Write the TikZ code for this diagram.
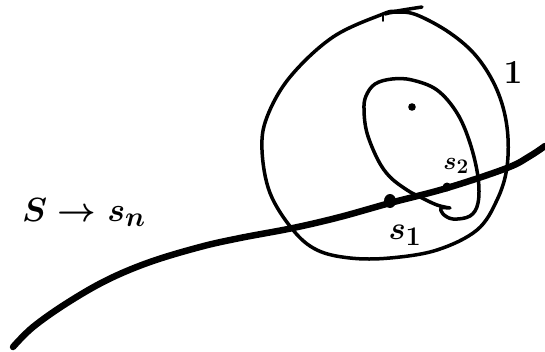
\documentclass[tikz,border=0pt]{standalone}
\usepackage{graphicx}
\begin{document}
\begin{tikzpicture}[x=1pt,y=-1pt,
  pen/.style={line width=3.5pt,line cap=round,line join=round},
  thick pen/.style={line width=6.5pt,line cap=round,line join=round},
  lbl/.style={inner sep=0pt,font=\Huge\boldmath\bfseries}]
\useasboundingbox (0,0) rectangle (545,351);
% outer closed region
\draw[pen] plot[smooth,tension=0.6] coordinates {
 (422,7) (397,11) (383,14) (333,37) (290,77) (267,117) (262,150) (270,193)
 (293,230) (317,250) (350,258) (390,258) (437,250) (477,230) (497,200)
 (507,167) (507,127) (497,90) (477,57) (450,33) (417,15) (397,12) (385,14)};
\draw[pen,line width=1.8pt] (383,15) -- (383,21);
% inner blob
\draw[pen] plot[smooth,tension=0.6] coordinates {
 (450,208) (437,205) (420,197) (407,190) (390,177) (378,160) (367,133)
 (364,110) (366,96) (375,84) (392,79) (412,80) (437,90) (457,113) (470,143)
 (478,177) (478,203) (470,216) (453,219) (443,214) (441,208) (448,208)};
\fill (412,107) circle (3.8pt);
% main curve
\draw[thick pen] plot[smooth,tension=0.6] coordinates {
 (13,347) (33,327) (67,303) (107,280) (150,262) (200,247) (240,238)
 (293,228) (340,217) (390,203) (447,188) (507,168) (530,156) (545,146)};
\fill (390,201) ellipse (6pt and 7pt);
\fill (447,187) circle (4.5pt);
% labels
\node[lbl] (ss) at (84,212) {\scalebox{1.35}{$S\to s_n$}};
\node[lbl] (s1) at (405,235) {\scalebox{1.3}{$s_1$}};
\node[lbl] (s2) at (456,166) {\scalebox{1.0}{$s_2$}};
\node[lbl] (one) at (513,72) {\scalebox{1.35}{1}};
\end{tikzpicture}
\end{document}
